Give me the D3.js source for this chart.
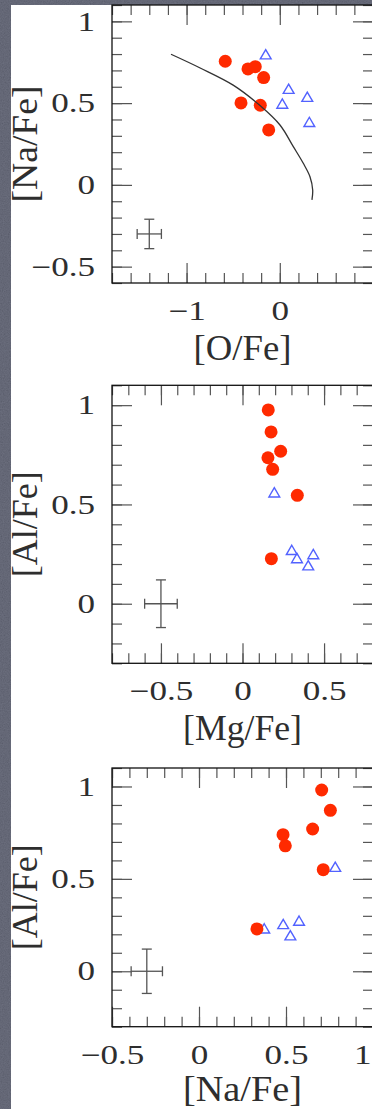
<!DOCTYPE html>
<html>
<head>
<meta charset="utf-8">
<script src="https://cdn.jsdelivr.net/npm/d3@7"></script>
<style>
  html, body { margin: 0; padding: 0; background: #4c5061; }
  svg { display: block; }
</style>
</head>
<body>
<svg id="fig" width="372" height="1109"></svg>
<script>
// ---------- data ----------
// Panel 1: [Na/Fe] versus [O/Fe]
const naoFilledO  = [-0.585, -0.341, -0.263, -0.173, -0.416, -0.209, -0.119];
const naoFilledNa = [ 0.756,  0.709,  0.723,  0.656,  0.501,  0.487,  0.336];
const naoOpenO    = [-0.151,  0.095,  0.027,  0.295,  0.317];
const naoOpenNa   = [ 0.799,  0.588,  0.497,  0.539,  0.385];
// dilution track drawn across the Na-O plane
const naoTrackO   = [-1.167, -0.854, -0.500, -0.212, 0.002, 0.145, 0.252, 0.324, 0.353, 0.345];
const naoTrackNa  = [ 0.799,  0.715,  0.610,  0.485, 0.366, 0.234, 0.132, 0.050, -0.031, -0.092];
const naoErr      = { x: -1.40, y: -0.30, dx: 0.13, dy: 0.09 };
const naoXTicks   = [-1, 0];
const naoYTicks   = [-0.5, 0, 0.5, 1];

// Panel 2: [Al/Fe] versus [Mg/Fe]
const mgalFilledMg = [0.158, 0.175, 0.234, 0.156, 0.185, 0.336, 0.177];
const mgalFilledAl = [0.976, 0.865, 0.768, 0.735, 0.677, 0.546, 0.227];
const mgalOpenMg   = [0.195, 0.302, 0.334, 0.434, 0.403];
const mgalOpenAl   = [0.561, 0.271, 0.230, 0.250, 0.194];
const mgalErr      = { x: -0.50, y: 0.00, dx: 0.10, dy: 0.12 };
const mgalXTicks   = [-0.5, 0, 0.5];
const mgalYTicks   = [0, 0.5, 1];

// Panel 3: [Al/Fe] versus [Na/Fe]
const naalFilledNa = [0.705, 0.755, 0.653, 0.483, 0.496, 0.714, 0.333];
const naalFilledAl = [0.981, 0.871, 0.770, 0.739, 0.679, 0.550, 0.229];
const naalOpenNa   = [0.783, 0.375, 0.484, 0.575, 0.525];
const naalOpenAl   = [0.566, 0.232, 0.256, 0.274, 0.195];
const naalErr      = { x: -0.30, y: 0.00, dx: 0.09, dy: 0.12 };
const naalXTicks   = [-0.5, 0, 0.5, 1];
const naalYTicks   = [0, 0.5, 1];

// ---------- layout ----------
const W = 372, H = 1109;
const LEFT = 112, RIGHT = 373;
const RED = "#ff2a00", BLUE = "#5262ff", INK = "#2e2e2e";
const SERIF = "'Liberation Serif', 'Times New Roman', serif";
const TICK_STRETCH = 1.3;

const svg = d3.select("#fig");
const defs = svg.append("defs");
const grain = defs.append("filter").attr("id", "grain")
  .attr("x", 0).attr("y", 0).attr("width", "100%").attr("height", "100%");
grain.append("feTurbulence").attr("type", "fractalNoise")
  .attr("baseFrequency", 0.85).attr("numOctaves", 3).attr("seed", 7);
grain.append("feColorMatrix").attr("type", "matrix")
  .attr("values", "0.33 0.33 0.33 0 0  0.33 0.33 0.33 0 0  0.36 0.36 0.36 0 0  0 0 0 0 1");

// stone backdrop with a white sheet laid over it
svg.append("rect").attr("width", W).attr("height", H).attr("fill", "#4c5061");
svg.append("rect").attr("width", W).attr("height", H)
  .attr("filter", "url(#grain)").attr("opacity", 0.22);
svg.append("rect").attr("x", 11).attr("y", 5).attr("width", W - 11).attr("height", H - 5)
  .attr("fill", "#ffffff");

// open triangle, apex up, centred on its bounding box
const triangle = {
  draw(ctx, size) {
    const w = Math.sqrt(size) * 1.5, h = w * 0.86;
    ctx.moveTo(0, -h / 2);
    ctx.lineTo(w / 2, h / 2);
    ctx.lineTo(-w / 2, h / 2);
    ctx.closePath();
  }
};

function stepTicks(dom, step) {
  const lo = Math.ceil(dom[0] / step - 1e-9), hi = Math.floor(dom[1] / step + 1e-9);
  return d3.range(lo, hi + 1).map(i => +(i * step).toFixed(6));
}

function panel(p) {
  const x = d3.scaleLinear().domain(p.xDomain).range([LEFT, RIGHT]);
  const y = d3.scaleLinear().domain(p.yDomain).range([p.bottom, p.top]);
  const g = svg.append("g");

  const fmt = d3.format("");
  const axes = [
    { gen: d3.axisBottom, s: x, at: `translate(0,${p.bottom})`, major: stepTicks(p.xDomain, p.xMajor), minor: stepTicks(p.xDomain, p.xMinor), labels: p.xTicks },
    { gen: d3.axisTop,    s: x, at: `translate(0,${p.top})`,    major: stepTicks(p.xDomain, p.xMajor), minor: stepTicks(p.xDomain, p.xMinor) },
    { gen: d3.axisLeft,   s: y, at: `translate(${LEFT},0)`,     major: stepTicks(p.yDomain, p.yMajor), minor: stepTicks(p.yDomain, p.yMinor), labels: p.yTicks },
    { gen: d3.axisRight,  s: y, at: `translate(${RIGHT},0)`,    major: stepTicks(p.yDomain, p.yMajor), minor: stepTicks(p.yDomain, p.yMinor) }
  ];
  axes.forEach(a => {
    const minor = g.append("g").attr("transform", a.at)
      .call(a.gen(a.s).tickValues(a.minor).tickSize(-10).tickFormat(""));
    const major = g.append("g").attr("transform", a.at)
      .call(a.gen(a.s).tickValues(a.major).tickSize(-20).tickFormat(""));
    [minor, major].forEach(sel => {
      sel.select(".domain").remove();
      sel.selectAll("line").attr("stroke", "#555").attr("stroke-width", 1.2);
    });
    if (a.labels) {
      const lab = g.append("g").attr("transform", a.at)
        .call(a.gen(a.s).tickValues(a.labels).tickSize(0).tickPadding(18).tickFormat(fmt));
      lab.select(".domain").remove();
      lab.selectAll("line").remove();
      const t = lab.selectAll("text")
        .attr("font-family", SERIF)
        .attr("font-size", 27)
        .attr("fill", INK)
        .attr("transform", `scale(${TICK_STRETCH},1)`);
      if (a.gen === d3.axisLeft) {
        t.attr("x", -17 / TICK_STRETCH);
      } else {
        t.attr("y", 18).attr("dy", "0.71em");
        // a label sitting on the right border is pulled in so it stays on the sheet
        t.each(function (d) {
          const half = this.getComputedTextLength() * TICK_STRETCH / 2;
          if (a.s(d) + half > W - 1) {
            d3.select(this).attr("text-anchor", "end")
              .attr("x", (W - 1 - a.s(d)) / TICK_STRETCH);
          }
        });
      }
    }
  });

  // frame
  g.append("rect")
    .attr("x", LEFT).attr("y", p.top)
    .attr("width", RIGHT - LEFT).attr("height", p.bottom - p.top)
    .attr("fill", "none").attr("stroke", "#111").attr("stroke-width", 1.3);

  // typical error bar
  const e = p.err, cap = 5;
  const eb = g.append("g").attr("stroke", "#555").attr("stroke-width", 1.3).attr("fill", "none");
  eb.append("line").attr("x1", x(e.x - e.dx)).attr("x2", x(e.x + e.dx)).attr("y1", y(e.y)).attr("y2", y(e.y));
  eb.append("line").attr("x1", x(e.x)).attr("x2", x(e.x)).attr("y1", y(e.y - e.dy)).attr("y2", y(e.y + e.dy));
  [e.x - e.dx, e.x + e.dx].forEach(v =>
    eb.append("line").attr("x1", x(v)).attr("x2", x(v)).attr("y1", y(e.y) - cap).attr("y2", y(e.y) + cap));
  [e.y - e.dy, e.y + e.dy].forEach(v =>
    eb.append("line").attr("x1", x(e.x) - cap).attr("x2", x(e.x) + cap).attr("y1", y(v)).attr("y2", y(v)));

  // open triangles
  const tri = d3.symbol().type(triangle).size(52);
  g.append("g").selectAll("path")
    .data(d3.zip(p.openX, p.openY))
    .join("path")
    .attr("transform", d => `translate(${x(d[0])},${y(d[1])})`)
    .attr("d", tri)
    .attr("fill", "none").attr("stroke", BLUE).attr("stroke-width", 1.4);

  // filled circles
  g.append("g").selectAll("circle")
    .data(d3.zip(p.filledX, p.filledY))
    .join("circle")
    .attr("cx", d => x(d[0])).attr("cy", d => y(d[1])).attr("r", 6.5)
    .attr("fill", RED);

  // model track
  if (p.trackX) {
    g.append("path")
      .datum(d3.zip(p.trackX, p.trackY))
      .attr("d", d3.line().x(d => x(d[0])).y(d => y(d[1])).curve(d3.curveCatmullRom.alpha(0.5)))
      .attr("fill", "none").attr("stroke", "#333").attr("stroke-width", 1.3);
  }

  // axis titles
  g.append("text")
    .attr("x", (LEFT + RIGHT) / 2).attr("y", p.bottom + p.xTitleGap)
    .attr("text-anchor", "middle")
    .attr("font-family", SERIF).attr("font-size", 35).attr("fill", INK)
    .attr("textLength", p.xTitleLen).attr("lengthAdjust", "spacingAndGlyphs")
    .text(p.xTitle);
  g.append("text")
    .attr("transform", `translate(36.5,${(p.top + p.bottom) / 2}) rotate(-90)`)
    .attr("text-anchor", "middle")
    .attr("font-family", SERIF).attr("font-size", 35).attr("fill", INK)
    .attr("textLength", p.yTitleLen).attr("lengthAdjust", "spacingAndGlyphs")
    .text(p.yTitle);
}

panel({
  top: 5, bottom: 283,
  xDomain: [-1.8, 1.0], yDomain: [-0.6, 1.1],
  xMajor: 1, xMinor: 0.2, yMajor: 0.5, yMinor: 0.1,
  xTicks: naoXTicks, yTicks: naoYTicks,
  filledX: naoFilledO, filledY: naoFilledNa,
  openX: naoOpenO, openY: naoOpenNa,
  trackX: naoTrackO, trackY: naoTrackNa,
  err: naoErr,
  xTitle: "[O/Fe]", xTitleLen: 98, xTitleGap: 77,
  yTitle: "[Na/Fe]", yTitleLen: 117
});

panel({
  top: 385.3, bottom: 663.3,
  xDomain: [-0.8, 0.8], yDomain: [-0.3, 1.1],
  xMajor: 0.5, xMinor: 0.1, yMajor: 0.5, yMinor: 0.1,
  xTicks: mgalXTicks, yTicks: mgalYTicks,
  filledX: mgalFilledMg, filledY: mgalFilledAl,
  openX: mgalOpenMg, openY: mgalOpenAl,
  err: mgalErr,
  xTitle: "[Mg/Fe]", xTitleLen: 119, xTitleGap: 77,
  yTitle: "[Al/Fe]", yTitleLen: 106
});

panel({
  top: 768, bottom: 1026.7,
  xDomain: [-0.5, 1.0], yDomain: [-0.3, 1.1],
  xMajor: 0.5, xMinor: 0.1, yMajor: 0.5, yMinor: 0.1,
  xTicks: naalXTicks, yTicks: naalYTicks,
  filledX: naalFilledNa, filledY: naalFilledAl,
  openX: naalOpenNa, openY: naalOpenAl,
  err: naalErr,
  xTitle: "[Na/Fe]", xTitleLen: 119, xTitleGap: 74,
  yTitle: "[Al/Fe]", yTitleLen: 106
});
</script>
</body>
</html>
